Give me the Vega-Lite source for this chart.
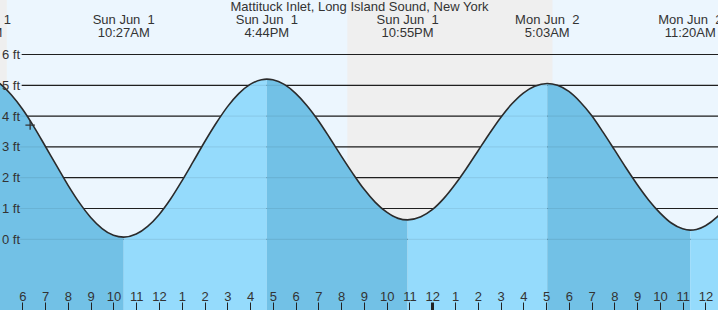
{
  "$schema": "https://vega.github.io/schema/vega-lite/v6.json",
  "width": 718,
  "height": 310,
  "autosize": "none",
  "padding": 0,
  "background": "#ecf6fe",
  "config": {"view": {"stroke": null}, "font": "Liberation Sans"},
  "datasets": {
    "sky": [
      {"h0": 4.5, "h1": 5.32, "kind": "night"},
      {"h0": 5.32, "h1": 20.27, "kind": "day"},
      {"h0": 20.27, "h1": 29.29, "kind": "night"},
      {"h0": 29.29, "h1": 37.0, "kind": "day"}
    ],
    "grid": [{"ft": 0}, {"ft": 1}, {"ft": 2}, {"ft": 3}, {"ft": 4}, {"ft": 5}, {"ft": 6}],
    "tide": [
      {"h": 4.1, "ft": 5.30, "seg": 0, "dir": "fall", "dup": 0},
      {"h": 4.5, "ft": 5.25, "seg": 0, "dir": "fall", "dup": 0},
      {"h": 5.0, "ft": 5.06, "seg": 0, "dir": "fall", "dup": 0},
      {"h": 5.5, "ft": 4.70, "seg": 0, "dir": "fall", "dup": 0},
      {"h": 6.0, "ft": 4.23, "seg": 0, "dir": "fall", "dup": 0},
      {"h": 6.5, "ft": 3.66, "seg": 0, "dir": "fall", "dup": 0},
      {"h": 7.0, "ft": 3.03, "seg": 0, "dir": "fall", "dup": 0},
      {"h": 7.5, "ft": 2.39, "seg": 0, "dir": "fall", "dup": 0},
      {"h": 8.0, "ft": 1.76, "seg": 0, "dir": "fall", "dup": 0},
      {"h": 8.5, "ft": 1.19, "seg": 0, "dir": "fall", "dup": 0},
      {"h": 9.0, "ft": 0.71, "seg": 0, "dir": "fall", "dup": 0},
      {"h": 9.5, "ft": 0.35, "seg": 0, "dir": "fall", "dup": 0},
      {"h": 10.0, "ft": 0.13, "seg": 0, "dir": "fall", "dup": 0},
      {"h": 10.45, "ft": 0.07, "seg": 0, "dir": "fall", "dup": 0},
      {"h": 10.45, "ft": 0.07, "seg": 1, "dir": "rise", "dup": 1},
      {"h": 11.0, "ft": 0.17, "seg": 1, "dir": "rise", "dup": 0},
      {"h": 11.5, "ft": 0.42, "seg": 1, "dir": "rise", "dup": 0},
      {"h": 12.0, "ft": 0.80, "seg": 1, "dir": "rise", "dup": 0},
      {"h": 12.5, "ft": 1.30, "seg": 1, "dir": "rise", "dup": 0},
      {"h": 13.0, "ft": 1.89, "seg": 1, "dir": "rise", "dup": 0},
      {"h": 13.5, "ft": 2.52, "seg": 1, "dir": "rise", "dup": 0},
      {"h": 14.0, "ft": 3.16, "seg": 1, "dir": "rise", "dup": 0},
      {"h": 14.5, "ft": 3.76, "seg": 1, "dir": "rise", "dup": 0},
      {"h": 15.0, "ft": 4.30, "seg": 1, "dir": "rise", "dup": 0},
      {"h": 15.5, "ft": 4.73, "seg": 1, "dir": "rise", "dup": 0},
      {"h": 16.0, "ft": 5.03, "seg": 1, "dir": "rise", "dup": 0},
      {"h": 16.5, "ft": 5.18, "seg": 1, "dir": "rise", "dup": 0},
      {"h": 16.733, "ft": 5.20, "seg": 1, "dir": "rise", "dup": 0},
      {"h": 16.733, "ft": 5.20, "seg": 2, "dir": "fall", "dup": 1},
      {"h": 17.0, "ft": 5.18, "seg": 2, "dir": "fall", "dup": 0},
      {"h": 17.5, "ft": 5.03, "seg": 2, "dir": "fall", "dup": 0},
      {"h": 18.0, "ft": 4.74, "seg": 2, "dir": "fall", "dup": 0},
      {"h": 18.5, "ft": 4.34, "seg": 2, "dir": "fall", "dup": 0},
      {"h": 19.0, "ft": 3.85, "seg": 2, "dir": "fall", "dup": 0},
      {"h": 19.5, "ft": 3.29, "seg": 2, "dir": "fall", "dup": 0},
      {"h": 20.0, "ft": 2.71, "seg": 2, "dir": "fall", "dup": 0},
      {"h": 20.5, "ft": 2.15, "seg": 2, "dir": "fall", "dup": 0},
      {"h": 21.0, "ft": 1.63, "seg": 2, "dir": "fall", "dup": 0},
      {"h": 21.5, "ft": 1.20, "seg": 2, "dir": "fall", "dup": 0},
      {"h": 22.0, "ft": 0.88, "seg": 2, "dir": "fall", "dup": 0},
      {"h": 22.5, "ft": 0.68, "seg": 2, "dir": "fall", "dup": 0},
      {"h": 22.917, "ft": 0.63, "seg": 2, "dir": "fall", "dup": 0},
      {"h": 22.917, "ft": 0.63, "seg": 3, "dir": "rise", "dup": 1},
      {"h": 23.5, "ft": 0.73, "seg": 3, "dir": "rise", "dup": 0},
      {"h": 24.0, "ft": 0.96, "seg": 3, "dir": "rise", "dup": 0},
      {"h": 24.5, "ft": 1.32, "seg": 3, "dir": "rise", "dup": 0},
      {"h": 25.0, "ft": 1.78, "seg": 3, "dir": "rise", "dup": 0},
      {"h": 25.5, "ft": 2.30, "seg": 3, "dir": "rise", "dup": 0},
      {"h": 26.0, "ft": 2.86, "seg": 3, "dir": "rise", "dup": 0},
      {"h": 26.5, "ft": 3.42, "seg": 3, "dir": "rise", "dup": 0},
      {"h": 27.0, "ft": 3.95, "seg": 3, "dir": "rise", "dup": 0},
      {"h": 27.5, "ft": 4.40, "seg": 3, "dir": "rise", "dup": 0},
      {"h": 28.0, "ft": 4.75, "seg": 3, "dir": "rise", "dup": 0},
      {"h": 28.5, "ft": 4.97, "seg": 3, "dir": "rise", "dup": 0},
      {"h": 29.05, "ft": 5.06, "seg": 3, "dir": "rise", "dup": 0},
      {"h": 29.05, "ft": 5.06, "seg": 4, "dir": "fall", "dup": 1},
      {"h": 29.5, "ft": 5.00, "seg": 4, "dir": "fall", "dup": 0},
      {"h": 30.0, "ft": 4.80, "seg": 4, "dir": "fall", "dup": 0},
      {"h": 30.5, "ft": 4.46, "seg": 4, "dir": "fall", "dup": 0},
      {"h": 31.0, "ft": 4.02, "seg": 4, "dir": "fall", "dup": 0},
      {"h": 31.5, "ft": 3.48, "seg": 4, "dir": "fall", "dup": 0},
      {"h": 32.0, "ft": 2.91, "seg": 4, "dir": "fall", "dup": 0},
      {"h": 32.5, "ft": 2.33, "seg": 4, "dir": "fall", "dup": 0},
      {"h": 33.0, "ft": 1.78, "seg": 4, "dir": "fall", "dup": 0},
      {"h": 33.5, "ft": 1.28, "seg": 4, "dir": "fall", "dup": 0},
      {"h": 34.0, "ft": 0.86, "seg": 4, "dir": "fall", "dup": 0},
      {"h": 34.5, "ft": 0.53, "seg": 4, "dir": "fall", "dup": 0},
      {"h": 35.0, "ft": 0.34, "seg": 4, "dir": "fall", "dup": 0},
      {"h": 35.333, "ft": 0.30, "seg": 4, "dir": "fall", "dup": 0},
      {"h": 35.333, "ft": 0.30, "seg": 5, "dir": "rise", "dup": 1},
      {"h": 35.6, "ft": 0.32, "seg": 5, "dir": "rise", "dup": 0},
      {"h": 36.0, "ft": 0.44, "seg": 5, "dir": "rise", "dup": 0},
      {"h": 36.5, "ft": 0.72, "seg": 5, "dir": "rise", "dup": 0},
      {"h": 37.0, "ft": 1.12, "seg": 5, "dir": "rise", "dup": 0}
    ],
    "now": [{"h": 6.34, "ft": 3.71}],
    "titles": [{"h": 20.804, "label": "Mattituck Inlet, Long Island Sound, New York"}],
    "events": [
      {"h": 4.13, "label": "Sun Jun\u00a0 1\n4:08AM"},
      {"h": 10.45, "label": "Sun Jun\u00a0 1\n10:27AM"},
      {"h": 16.733, "label": "Sun Jun\u00a0 1\n4:44PM"},
      {"h": 22.917, "label": "Sun Jun\u00a0 1\n10:55PM"},
      {"h": 29.05, "label": "Mon Jun\u00a0 2\n5:03AM"},
      {"h": 35.333, "label": "Mon Jun\u00a0 2\n11:20AM"}
    ]
  },
  "layer": [
    {
      "data": {"name": "sky"},
      "mark": {"type": "rect", "clip": true},
      "encoding": {
        "x": {
          "field": "h0", "type": "quantitative",
          "scale": {"domain": [5.016, 36.55], "nice": false, "zero": false},
          "axis": {
            "title": null, "orient": "top", "offset": -310, "zindex": 2,
            "values": [6,7,8,9,10,11,12,13,14,15,16,17,18,19,20,21,22,23,24,25,26,27,28,29,30,31,32,33,34,35,36],
            "tickCount": 60,
            "labelExpr": "datum.value % 12 == 0 ? '12' : '' + (datum.value % 12)",
            "domain": false, "grid": false,
            "tickSize": 8, "tickColor": "#222222",
            "tickWidth": {"condition": {"test": "datum.value == 24", "value": 3}, "value": 1},
            "labelPadding": 1.5, "labelBaseline": "alphabetic",
            "labelFontSize": 13, "labelColor": "#333333", "labelFont": "Liberation Sans",
            "labelOverlap": false, "labelFlush": false, "labelBound": false
          }
        },
        "x2": {"field": "h1"},
        "color": {
          "field": "kind", "type": "nominal",
          "scale": {"domain": ["night", "day", "fall", "rise"], "range": ["#efefef", "#ecf6fe", "#72c1e6", "#95dbfc"]},
          "legend": null
        }
      }
    },
    {
      "data": {"name": "grid"},
      "mark": {"type": "rule", "clip": true, "color": "#222222", "strokeWidth": 1.2},
      "encoding": {
        "x": {"datum": 5.97, "type": "quantitative"},
        "x2": {"datum": 37.0},
        "y": {
          "field": "ft", "type": "quantitative",
          "scale": {"domain": [-2.295, 7.77], "nice": false, "zero": false},
          "axis": {
            "title": null, "orient": "left", "offset": -22, "zindex": 2,
            "values": [0, 1, 2, 3, 4, 5, 6],
            "tickCount": 20,
            "labelExpr": "datum.value + ' ft'",
            "domain": false, "grid": false, "ticks": false,
            "labelPadding": 2.5, "labelAlign": "right", "labelBaseline": "middle",
            "labelFontSize": 13, "labelColor": "#333333", "labelFont": "Liberation Sans",
            "labelOverlap": false, "labelFlush": false, "labelBound": false
          }
        }
      }
    },
    {
      "data": {"name": "tide"},
      "mark": {"type": "area", "interpolate": "monotone", "clip": true},
      "encoding": {
        "x": {"field": "h", "type": "quantitative"},
        "y": {"field": "ft", "type": "quantitative"},
        "y2": {"datum": -2.295},
        "color": {"field": "dir", "type": "nominal", "scale": {"domain": ["night", "day", "fall", "rise"], "range": ["#efefef", "#ecf6fe", "#72c1e6", "#95dbfc"]}, "legend": null},
        "detail": {"field": "seg", "type": "nominal"}
      }
    },
    {
      "data": {"name": "grid"},
      "mark": {"type": "rule", "clip": true, "color": "#000000", "opacity": 0.07, "strokeWidth": 1.2},
      "encoding": {
        "x": {"datum": 5.9, "type": "quantitative"},
        "x2": {"datum": 37.0},
        "y": {"field": "ft", "type": "quantitative"}
      }
    },
    {
      "data": {"name": "tide"},
      "transform": [{"filter": "datum.dup == 0"}],
      "mark": {"type": "line", "interpolate": "monotone", "clip": true, "color": "#2b2b2b", "strokeWidth": 1.6},
      "encoding": {
        "x": {"field": "h", "type": "quantitative"},
        "y": {"field": "ft", "type": "quantitative"}
      }
    },
    {
      "data": {"name": "now"},
      "mark": {"type": "point", "shape": "M-1,0L1,0M0,-1L0,1", "size": 90, "filled": false, "stroke": "#333333", "strokeWidth": 1.3, "opacity": 1, "clip": true},
      "encoding": {
        "x": {"field": "h", "type": "quantitative"},
        "y": {"field": "ft", "type": "quantitative"}
      }
    },
    {
      "data": {"name": "titles"},
      "mark": {"type": "text", "clip": true, "baseline": "alphabetic", "align": "center", "fontSize": 13, "color": "#333333", "font": "Liberation Sans"},
      "encoding": {
        "x": {"field": "h", "type": "quantitative"},
        "y": {"datum": 7.42},
        "text": {"field": "label"}
      }
    },
    {
      "data": {"name": "events"},
      "mark": {"type": "text", "clip": true, "lineBreak": "\n", "lineHeight": 12.5, "baseline": "alphabetic", "align": "center", "fontSize": 13, "color": "#333333", "font": "Liberation Sans"},
      "encoding": {
        "x": {"field": "h", "type": "quantitative"},
        "y": {"datum": 6.99},
        "text": {"field": "label"}
      }
    }
  ]
}
